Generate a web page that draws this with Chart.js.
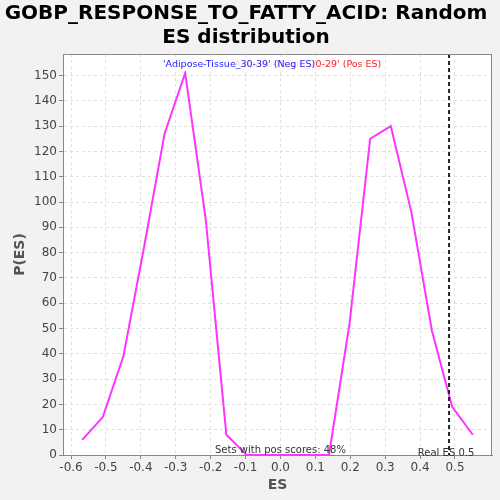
<!DOCTYPE html>
<html>
<head>
<meta charset="utf-8">
<script src="https://cdn.jsdelivr.net/npm/chart.js@4"></script>
<style>
  html, body { margin: 0; padding: 0; background: #f2f2f2; }
  #wrap { width: 500px; height: 500px; }
</style>
</head>
<body>
<div id="wrap"><canvas id="es-plot" width="500" height="500"></canvas></div>
<script>
const esValues = [-0.568, -0.509, -0.450, -0.391, -0.332, -0.273, -0.214, -0.155, -0.097, -0.038,
                  0.021, 0.080, 0.139, 0.198, 0.257, 0.316, 0.375, 0.434, 0.492, 0.551];
const pValues = [6, 15, 39, 82, 127, 151, 93, 8, 0, 0,
                 0, 0, 0, 52, 125, 130, 96, 49, 19, 8];
const xTicks = [-0.6, -0.5, -0.4, -0.3, -0.2, -0.1, 0.0, 0.1, 0.2, 0.3, 0.4, 0.5];
const yTicks = [0, 10, 20, 30, 40, 50, 60, 70, 80, 90, 100, 110, 120, 130, 140, 150];
const realES = 0.483;
const posPct = '48%';
const negLabel = "'Adipose-Tissue_30-39' (Neg ES)";
const posLabel = "'Adipose-Tissue_20-29' (Pos ES)";

const points = esValues.map((x, i) => ({ x: x, y: pValues[i] }));

const plotDecor = {
    id: 'plotDecor',
    beforeDraw(chart) {
        const { ctx, chartArea: a } = chart;
        ctx.save();
        ctx.fillStyle = '#ffffff';
        ctx.fillRect(a.left, a.top, a.right - a.left, a.bottom - a.top);
        ctx.restore();
    },
    afterDatasetsDraw(chart) {
        const { ctx, chartArea: a, scales } = chart;
        const xs = scales.x;
        ctx.save();
        // real ES line
        const rx = xs.getPixelForValue(realES);
        ctx.strokeStyle = '#222';
        ctx.lineWidth = 2;
        ctx.setLineDash([4, 3]);
        ctx.beginPath();
        ctx.moveTo(rx, a.top);
        ctx.lineTo(rx, a.bottom);
        ctx.stroke();
        ctx.setLineDash([]);
        // outline
        ctx.strokeStyle = '#888';
        ctx.lineWidth = 1;
        ctx.strokeRect(a.left + 0.5, a.top + 0.5, a.right - a.left - 1, a.bottom - a.top);
        // labels (neg label sits over the pos label)
        ctx.font = '9.5px "DejaVu Sans"';
        ctx.textBaseline = 'middle';
        ctx.textAlign = 'left';
        ctx.fillStyle = '#ff2020';
        ctx.fillText(posLabel, 232, 65);
        const w = ctx.measureText(negLabel).width;
        ctx.fillStyle = 'rgba(255,255,255,0.8)';
        ctx.fillRect(163, 59, w, 12);
        ctx.fillStyle = '#2020ff';
        ctx.fillText(negLabel, 163, 65);
        ctx.fillStyle = '#333';
        ctx.textAlign = 'center';
        ctx.textBaseline = 'alphabetic';
        ctx.font = '10px "DejaVu Sans"';
        ctx.fillText('Sets with pos scores: ' + posPct, xs.getPixelForValue(0), a.bottom - 2);
        ctx.fillText('Real ES 0.5', rx - 3, a.bottom + 1);
        ctx.restore();
    }
};

const ctx = document.getElementById('es-plot').getContext('2d');
const chart = new Chart(ctx, {
    type: 'line',
    data: {
        datasets: [{
            label: 'P(ES)',
            data: points,
            borderColor: '#ff33ff',
            borderWidth: 2,
            pointRadius: 0,
            fill: false,
            tension: 0
        }]
    },
    options: {
        responsive: false,
        animation: false,
        layout: { padding: { left: 0, right: 8, top: 0, bottom: 0 } },
        plugins: {
            legend: { display: false },
            tooltip: { enabled: false },
            title: {
                display: true,
                text: ['GOBP_RESPONSE_TO_FATTY_ACID: Random', 'ES distribution'],
                color: '#000',
                font: { family: 'DejaVu Sans', size: 20, weight: 'bold', lineHeight: 1.2 },
                padding: { top: 2, bottom: 4 }
            }
        },
        scales: {
            x: {
                type: 'linear',
                min: -0.623,
                max: 0.606,
                afterBuildTicks: s => { s.ticks = xTicks.map(v => ({ value: v })); },
                afterFit: s => { s.height = 45; },
                ticks: {
                    color: '#444',
                    font: { family: 'DejaVu Sans', size: 12 },
                    padding: 2,
                    maxRotation: 0,
                    callback: v => v.toFixed(1)
                },
                grid: { color: '#e0e0e0', tickColor: '#888', tickLength: 4 },
                border: { color: '#888', dash: [3, 3] },
                title: {
                    display: true, text: 'ES', color: '#555',
                    font: { family: 'DejaVu Sans', size: 14, weight: 'bold' },
                    padding: { top: 2, bottom: 6 }
                }
            },
            y: {
                min: 0,
                max: 158.5,
                afterBuildTicks: s => { s.ticks = yTicks.map(v => ({ value: v })); },
                afterFit: s => { s.width = 63; },
                ticks: {
                    color: '#444',
                    font: { family: 'DejaVu Sans', size: 12 },
                    padding: 2
                },
                grid: { color: '#e0e0e0', tickColor: '#888', tickLength: 4 },
                border: { color: '#888', dash: [3, 3] },
                title: {
                    display: true, text: 'P(ES)', color: '#555',
                    font: { family: 'DejaVu Sans', size: 14, weight: 'bold' },
                    padding: { top: 12, bottom: 4 }
                }
            }
        }
    },
    plugins: [plotDecor]
});
</script>
</body>
</html>
